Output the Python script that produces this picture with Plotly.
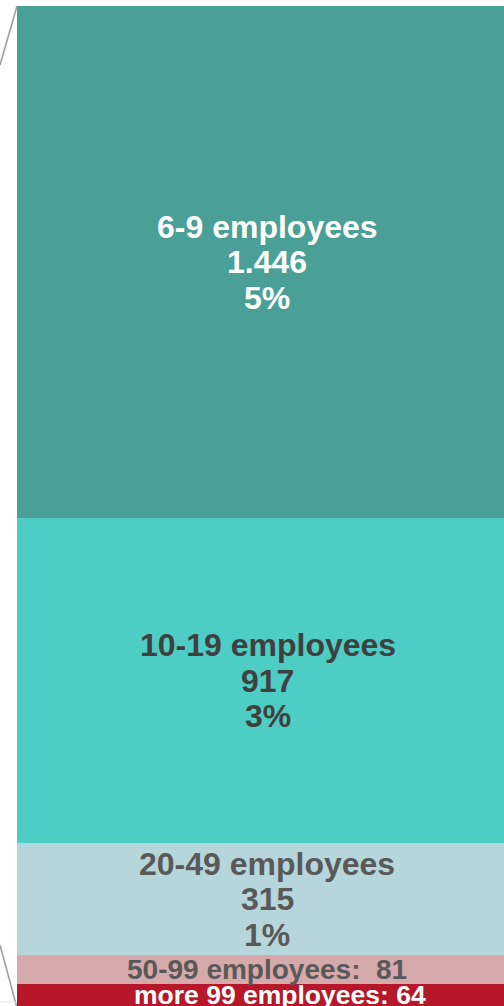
import plotly.graph_objects as go

# Data (bottom to top in the stack)
categories = ["more 99 employees", "50-99 employees", "20-49 employees", "10-19 employees", "6-9 employees"]
counts = [64, 81, 315, 917, 1446]
count_labels = ["64", "81", "315", "917", "1.446"]
percent_labels = ["", "", "1%", "3%", "5%"]
colors = ["#b61729", "#d6a9aa", "#b6d6db", "#4ecdc4", "#4aa096"]
text_colors = ["#ffffff", "#595959", "#595959", "#404040", "#ffffff"]

# label styling per segment (bottom to top)
label_sizes = [26.5, 28, 32, 32, 32]
label_xshifts = [19.5, 6.5, 6.5, 7, 6.5]

fig = go.Figure()
for cat, val, col in zip(categories, counts, colors):
    fig.add_trace(go.Bar(
        x=[0], y=[val], name=cat, width=1,
        marker=dict(color=col, line=dict(width=0)),
        hoverinfo="skip", showlegend=False,
    ))

FONT = "Liberation Sans, Arial, sans-serif"
annotations = []
base = 0
for cat, val, cl, pl, tc, size, xs in zip(categories, counts, count_labels, percent_labels,
                                          text_colors, label_sizes, label_xshifts):
    mid = base + val / 2
    if pl:
        lines = [cat, cl, pl]
        spacing = 35.5
        offsets = [spacing, 0, -spacing]
    else:
        sep = ":  " if cat.startswith("50") else ": "
        lines = [cat + sep + cl]
        offsets = [0]
    for txt, off in zip(lines, offsets):
        annotations.append(dict(
            x=0, y=mid, xref="x", yref="y", text=txt, showarrow=False,
            xanchor="center", yanchor="middle", yshift=off, xshift=xs,
            font=dict(family=FONT, size=size, color=tc, weight="bold"),
        ))
    base += val

total = sum(counts)
W, H = 504, 1006
shapes = [
    dict(type="line", xref="paper", yref="paper", x0=17 / W, y0=1 - 6 / H, x1=0, y1=1 - 65 / H,
         line=dict(color="#a0a0a0", width=1.6), layer="above"),
    dict(type="line", xref="paper", yref="paper", x0=16.5 / W, y0=1 - 1006 / H, x1=0, y1=1 - 945 / H,
         line=dict(color="#a0a0a0", width=1.6), layer="below"),
    dict(type="line", xref="paper", yref="paper", x0=0, y0=1 - 1002 / H, x1=16 / W, y1=1 - 1002 / H,
         line=dict(color="#e6e6e6", width=1), layer="below"),
]

fig.update_layout(
    width=W, height=H,
    margin=dict(l=0, r=0, t=0, b=0),
    paper_bgcolor="white", plot_bgcolor="white",
    barmode="stack", bargap=0,
    xaxis=dict(domain=[17 / W, 1], range=[-0.5, 0.5], visible=False, fixedrange=True),
    yaxis=dict(range=[1, total + 17], visible=False, fixedrange=True),
    annotations=annotations,
    shapes=shapes,
)

fig.write_html(
    "out.html",
    config={"displayModeBar": False},
    post_script="document.body.style.margin='0';document.body.style.overflow='hidden';",
)
